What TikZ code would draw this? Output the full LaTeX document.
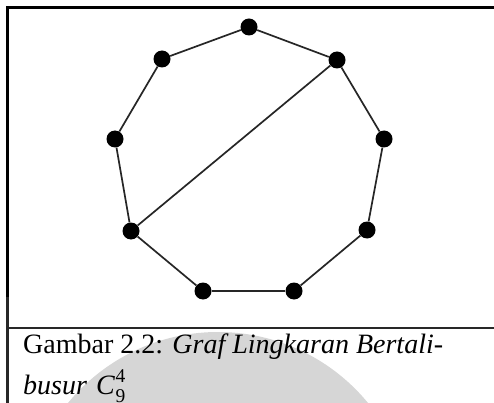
\documentclass[tikz,border=0pt]{standalone}
\usepackage{fontspec}
\setmainfont{Liberation Serif}
\definecolor{wmgray}{RGB}{214,214,214}
\definecolor{framegray}{RGB}{40,40,40}
\tikzset{
  vtx/.style={circle,fill=black,draw=none,minimum size=17pt,inner sep=0pt},
  edge/.style={line width=1.7pt,draw=black!85},
  frameline/.style={line width=2.4pt,draw=black},
  captext/.style={anchor=base west,inner sep=0pt,font=\fontsize{28}{33}\selectfont}
}
\begin{document}
\begin{tikzpicture}[x=1pt,y=-1pt]
\useasboundingbox (0,0) rectangle (494,403);
\clip (0,0) rectangle (494,403);
% watermark
\fill[wmgray] (218,526) circle[radius=194pt];
\fill[white] (0,0) rectangle (494,327);
% frame
\coordinate (tl) at (7.6,7.4);
\coordinate (tr) at (494,7.4);
\coordinate (lm) at (7.6,297);
\coordinate (lb) at (7.6,403);
\coordinate (sl) at (7.6,328);
\coordinate (sr) at (494,328);
\draw[frameline] (tr) -- (tl) -- (lm);
\draw[frameline,draw=framegray] (lm) -- (lb);
\draw[frameline,draw=framegray] (sl) -- (sr);
% vertices
\node[vtx] (v1) at (249,27) {};
\node[vtx] (v2) at (337,60) {};
\node[vtx] (v3) at (384,139) {};
\node[vtx] (v4) at (367,230) {};
\node[vtx] (v5) at (294,291) {};
\node[vtx] (v6) at (203,291) {};
\node[vtx] (v7) at (131,231) {};
\node[vtx] (v8) at (115,139) {};
\node[vtx] (v9) at (162,59) {};
% edges
\draw[edge] (v1) -- (v2);
\draw[edge] (v2) -- (v3);
\draw[edge] (v3) -- (v4);
\draw[edge] (v4) -- (v5);
\draw[edge] (v5) -- (v6);
\draw[edge] (v6) -- (v7);
\draw[edge] (v7) -- (v8);
\draw[edge] (v8) -- (v9);
\draw[edge] (v9) -- (v1);
\draw[edge] (v2) -- (v7);
% caption
\node[captext] (cap1) at (23,353) {Gambar 2.2: \textit{Graf Lingkaran Bertali-}};
\node[captext] (cap2) at (23,394) {\textit{busur}\kern9pt\textit{C}\kern0.5pt\rlap{\raisebox{-8pt}{\fontsize{19.5}{20}\selectfont 9}}\raisebox{12pt}{\fontsize{19.5}{20}\selectfont 4}};
\end{tikzpicture}
\end{document}
